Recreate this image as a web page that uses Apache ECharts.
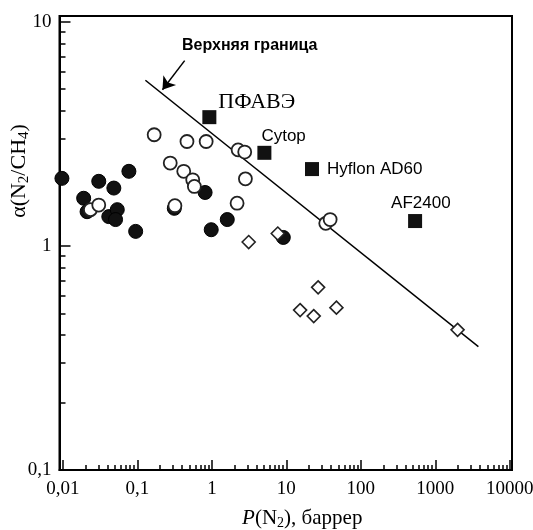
<!DOCTYPE html>
<html>
<head>
<meta charset="utf-8">
<script src="https://cdn.jsdelivr.net/npm/echarts@6/dist/echarts.min.js"></script>
<style>
html,body{margin:0;padding:0;background:#fff;}
#chart{width:533px;height:530px;}
</style>
</head>
<body>
<div id="chart"></div>
<script>
// ---- data ----
const filledCircles = [
  [0.0097, 2.00], [0.0190, 1.63], [0.0211, 1.42], [0.0303, 1.94], [0.0413, 1.35],
  [0.0483, 1.81], [0.0537, 1.45], [0.0509, 1.31], [0.0769, 2.15], [0.0948, 1.16],
  [0.313, 1.47], [0.811, 1.73], [0.98, 1.18], [1.61, 1.31], [9.1, 1.09]
];
const openCircles = [
  [0.168, 3.13], [0.463, 2.92], [0.838, 2.92], [2.25, 2.68], [2.76, 2.62],
  [0.276, 2.34], [0.419, 2.15], [0.553, 1.97], [0.582, 1.84], [2.82, 1.99],
  [0.319, 1.51], [2.18, 1.55], [0.0234, 1.45], [0.0303, 1.52], [33.8, 1.26], [38.7, 1.31]
];
const openDiamonds = [
  [3.12, 1.04], [7.67, 1.135], [26.7, 0.653], [15.3, 0.517], [23.3, 0.486], [47, 0.530], [1990, 0.422]
];
const squareNames = ['ПФАВЭ', 'Cytop', 'Hyflon AD60', 'AF2400'];
const squarePoints = [[0.925, 3.75], [5.07, 2.60], [22.1, 2.20], [535, 1.29]];
const upperBound = [[0.128, 5.48], [3785, 0.355]];
const arrowFrom = [0.431, 6.70];
const arrowTo = [0.217, 4.97];
const boundLabel = 'Верхняя граница';
const xMajorTicks = [0.01, 0.1, 1, 10, 100, 1000, 10000];
const yMajorTicks = [0.1, 1, 10];
const minorMultipliers = [2, 3, 4, 5, 6, 7, 8, 9];
const xDecades = [0.01, 0.1, 1, 10, 100, 1000];
const yDecades = [0.1, 1];

// minor tick positions (axis decoration)
const xMinorTicks = [];
xDecades.forEach(d => minorMultipliers.forEach(m => xMinorTicks.push(+(d * m).toPrecision(6))));
const yMinorTicks = [];
yDecades.forEach(d => minorMultipliers.forEach(m => yMinorTicks.push(+(d * m).toPrecision(6))));

const X_MIN = 0.009, X_MAX = 10700, Y_MIN = 0.1, Y_MAX = 10.6;
const serif = 'Liberation Serif';
const sans = 'Liberation Sans';

const fmt = v => String(v).replace('.', ',');

const labelStyles = [
  {fontFamily: serif, fontSize: 22, offset: [2, -15]},
  {fontFamily: sans, fontSize: 17, offset: [-10, -17]},
  {fontFamily: sans, fontSize: 17, offset: [8, 0]},
  {fontFamily: sans, fontSize: 17, offset: [-31, -18]}
];

const squareData = squarePoints.map((p, i) => ({
  name: squareNames[i],
  value: p,
  label: {
    show: true, position: 'right', distance: 0, formatter: '{b}', color: '#000',
    fontFamily: labelStyles[i].fontFamily, fontSize: labelStyles[i].fontSize,
    offset: labelStyles[i].offset
  }
}));

const richX = {
  s: {fontFamily: serif, fontSize: 14, padding: [10, 0, 0, 0], color: '#000'},
  i: {fontFamily: serif, fontSize: 21, fontStyle: 'italic', color: '#000'}
};
const richY = {
  s: {fontFamily: serif, fontSize: 15, padding: [10, 0, 0, 0], color: '#000'}
};

const chart = echarts.init(document.getElementById('chart'), null, {renderer: 'canvas'});
const axisLineStyle = {color: '#000', width: 2};

chart.setOption({
  animation: false,
  backgroundColor: '#fff',
  grid: {left: 59.5, right: 21, top: 16, bottom: 60, containLabel: false, outerBoundsMode: 'none',
    show: true, borderColor: '#000', borderWidth: 2, backgroundColor: 'transparent'},
  xAxis: [
    {
      type: 'log', min: X_MIN, max: X_MAX, position: 'bottom',
      axisLine: {show: true, lineStyle: axisLineStyle},
      axisTick: {show: true, inside: true, length: 10, lineStyle: {color: '#000', width: 1.5}, customValues: xMajorTicks},
      axisLabel: {customValues: xMajorTicks, formatter: fmt, fontFamily: serif, fontSize: 19, color: '#000', margin: 10},
      splitLine: {show: false},
      name: '{i|P}(N{s|2}), баррер',
      nameLocation: 'middle', nameGap: 36, nameMoveOverlap: false,
      nameTextStyle: {fontFamily: serif, fontSize: 21, color: '#000', rich: richX, padding: [0, 0, 0, 33]}
    },
    {
      type: 'log', min: X_MIN, max: X_MAX, position: 'bottom',
      axisLine: {show: false},
      axisTick: {show: true, inside: true, length: 5, lineStyle: {color: '#000', width: 1.5}, customValues: xMinorTicks},
      axisLabel: {show: false},
      splitLine: {show: false}
    }
  ],
  yAxis: [
    {
      type: 'log', min: Y_MIN, max: Y_MAX, position: 'left',
      axisLine: {show: true, lineStyle: axisLineStyle},
      axisTick: {show: true, inside: true, length: 11, lineStyle: {color: '#000', width: 1.5}, customValues: yMajorTicks},
      axisLabel: {customValues: yMajorTicks, formatter: fmt, fontFamily: serif, fontSize: 19, color: '#000', margin: 8},
      splitLine: {show: false},
      name: 'α(N{s|2}/CH{s|4})',
      nameLocation: 'middle', nameGap: 28, nameRotate: 90, nameMoveOverlap: false,
      nameTextStyle: {fontFamily: serif, fontSize: 22, color: '#000', rich: richY, padding: [0, 0, 0, 144]}
    },
    {
      type: 'log', min: Y_MIN, max: Y_MAX, position: 'left',
      axisLine: {show: false},
      axisTick: {show: true, inside: true, length: 6, lineStyle: {color: '#000', width: 1.5}, customValues: yMinorTicks},
      axisLabel: {show: false},
      splitLine: {show: false}
    }
  ],
  graphic: [
    {type: 'text', left: 182, top: 38, style: {text: boundLabel, fontFamily: sans, fontWeight: 'bold', fontSize: 16, fill: '#000'}}
  ],
  series: [
    {
      type: 'line', data: upperBound, symbol: 'none', silent: true,
      lineStyle: {color: '#000', width: 1.5},
      z: 1,
      markLine: {
        silent: true, animation: false,
        symbol: ['none', 'arrow'], symbolSize: 12,
        label: {show: false},
        lineStyle: {color: '#000', width: 1.5, type: 'solid'},
        itemStyle: {color: '#000'},
        data: [[{coord: arrowFrom}, {coord: arrowTo}]]
      }
    },
    {
      type: 'scatter', data: filledCircles, symbol: 'circle', symbolSize: 14,
      itemStyle: {color: '#111', borderColor: '#000', borderWidth: 1, opacity: 1}, z: 2
    },
    {
      type: 'scatter', data: openCircles, symbol: 'circle', symbolSize: 13,
      itemStyle: {color: '#fff', borderColor: '#222', borderWidth: 1.8, opacity: 1}, z: 3
    },
    {
      type: 'scatter', data: openDiamonds, symbol: 'diamond', symbolSize: [13, 13],
      itemStyle: {color: '#fff', borderColor: '#222', borderWidth: 1.6, opacity: 1}, z: 4
    },
    {
      type: 'scatter', data: squareData, symbol: 'rect', symbolSize: 14,
      itemStyle: {color: '#111', opacity: 1}, z: 5
    }
  ]
});
</script>
</body>
</html>
